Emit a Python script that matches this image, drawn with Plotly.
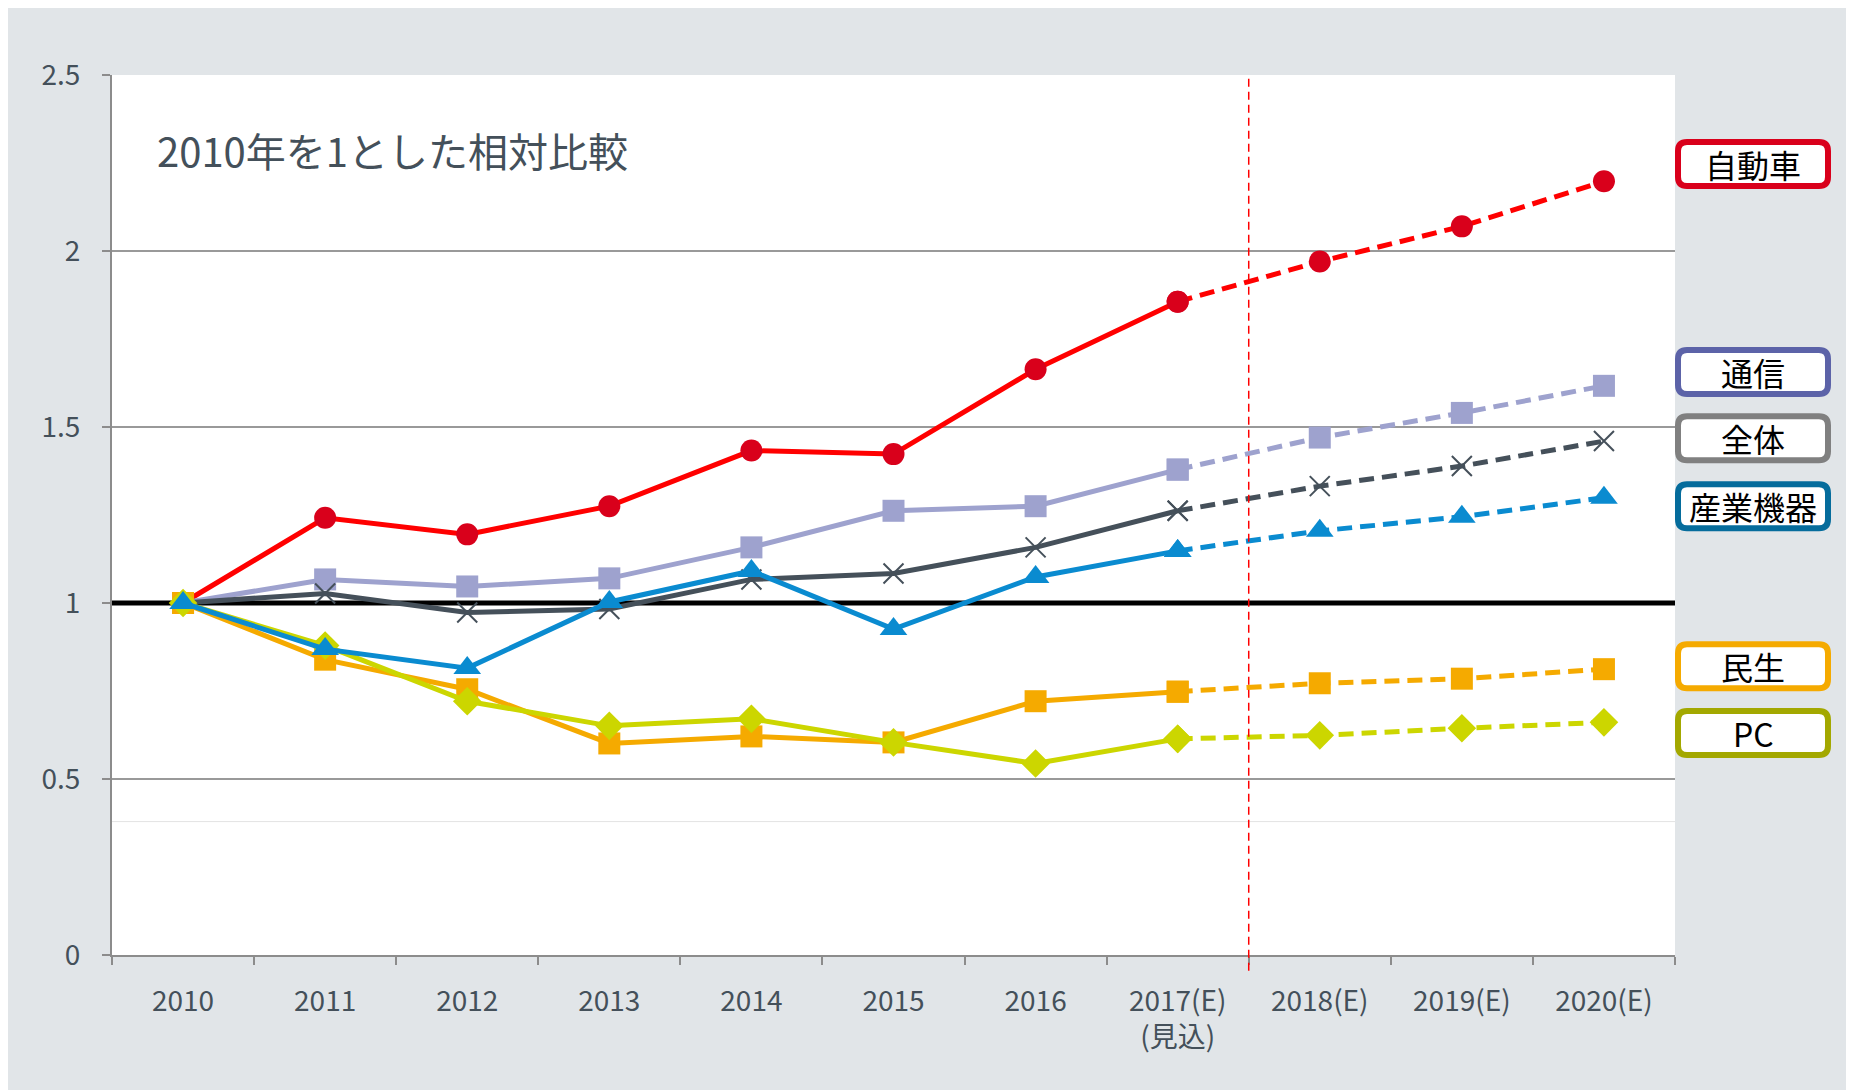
import plotly.graph_objects as go

categories = ["2010", "2011", "2012", "2013", "2014", "2015", "2016",
              "2017(E)<br>(見込)", "2018(E)", "2019(E)", "2020(E)"]

series_names = ["自動車", "通信", "全体", "民生", "PC", "産業機器"]
auto = [1.0, 1.242, 1.195, 1.275, 1.433, 1.423, 1.664, 1.856, 1.970, 2.070, 2.198]
tsushin = [1.0, 1.067, 1.047, 1.070, 1.158, 1.262, 1.275, 1.379, 1.470, 1.540, 1.617]
zentai = [1.0, 1.027, 0.973, 0.983, 1.067, 1.084, 1.158, 1.262, 1.332, 1.389, 1.460]
minsei = [1.0, 0.839, 0.755, 0.601, 0.621, 0.604, 0.721, 0.748, 0.772, 0.785, 0.812]
pc = [1.0, 0.879, 0.721, 0.651, 0.671, 0.604, 0.544, 0.614, 0.624, 0.644, 0.661]
sangyo = [1.0, 0.869, 0.815, 1.003, 1.091, 0.926, 1.074, 1.148, 1.205, 1.245, 1.299]

legend_order = ["自動車", "通信", "全体", "産業機器", "民生", "PC"]
legend_y = [2.247, 1.656, 1.468, 1.275, 0.820, 0.631]

title_text = "2010年を1とした相対比較"
split_index = 7  # last actual (見込) point; forecasts afterwards

FONT = "Noto Sans CJK JP, Noto Sans, sans-serif"

styles = {
    "自動車": dict(line="#FF0000", marker="#D9001B", symbol="circle", size=22, border="#D9001B"),
    "通信": dict(line="#9EA2CE", marker="#9EA2CE", symbol="square", size=22, border="#5C63A8"),
    "全体": dict(line="#45505A", marker="#45505A", symbol="x-thin", size=20, border="#808080"),
    "民生": dict(line="#F5AA00", marker="#F5AA00", symbol="square", size=22, border="#F5AA00"),
    "PC": dict(line="#CCD600", marker="#CCD600", symbol="diamond", size=22, border="#A3A800"),
    "産業機器": dict(line="#0A8BD0", marker="#0A8BD0", symbol="triangle-up", size=24, border="#056C9C"),
}
values = {"自動車": auto, "通信": tsushin, "全体": zentai,
          "民生": minsei, "PC": pc, "産業機器": sangyo}

fig = go.Figure()

for name in series_names:
    st = styles[name]
    vals = values[name]
    if st["symbol"] == "x-thin":
        marker = dict(symbol="x-thin", size=st["size"], color=st["marker"],
                      line=dict(color=st["marker"], width=2))
    else:
        marker = dict(symbol=st["symbol"], size=st["size"], color=st["marker"],
                      line=dict(width=0))
    fig.add_trace(go.Scatter(
        x=categories[:split_index + 1], y=vals[:split_index + 1],
        mode="lines+markers", name=name, showlegend=False,
        line=dict(color=st["line"], width=5), marker=marker, cliponaxis=False))
    fig.add_trace(go.Scatter(
        x=categories[split_index:], y=vals[split_index:],
        mode="lines+markers", name=name, showlegend=False,
        line=dict(color=st["line"], width=5, dash="15px,8px"), marker=marker,
        cliponaxis=False))

# page geometry: the figure sits 8px inside the window (body margin)
OFF = 8
W, H = 1854 - OFF, 1090 - OFF
ml, mt = 112 - OFF, 75 - OFF
pw = 1675 - 112
ph = 955 - 75
mr = W - ml - pw
mb = H - mt - ph


def px_x(px):  # reference window pixel -> paper x
    return (px - OFF - ml) / pw


def px_y(py):  # reference window pixel -> paper y
    return (mt + ph - (py - OFF)) / ph


shapes = [
    # outer grey background
    dict(type="rect", xref="paper", yref="paper", x0=px_x(-20), x1=px_x(1900),
         y0=px_y(1120), y1=px_y(4), fillcolor="#E1E5E8", line=dict(width=0),
         layer="below"),
    # white plot area
    dict(type="rect", xref="paper", yref="paper", x0=0, x1=1, y0=0, y1=1,
         fillcolor="white", line=dict(width=0), layer="below"),
    # faint line
    dict(type="line", xref="x", yref="y", x0=-0.5, x1=len(categories) - 0.5,
         y0=0.379, y1=0.379, line=dict(color="#E3E3E3", width=1), layer="between"),
    # baseline at 1
    dict(type="line", xref="x", yref="y", x0=-0.5, x1=len(categories) - 0.5,
         y0=1, y1=1, line=dict(color="black", width=5), layer="between"),
    # vertical separator between actual and forecast
    dict(type="line", xref="paper", yref="paper",
         x0=(split_index + 1) / len(categories), x1=(split_index + 1) / len(categories),
         y0=-0.018, y1=1, line=dict(color="#FF0000", width=1.5, dash="8px,5px"),
         layer="above"),
]

# rounded legend boxes
box_cx, box_w, box_h, rad = 1753, 150, 44, 9
for name, yv in zip(legend_order, legend_y):
    st = styles[name]
    yc_paper = yv / 2.5
    cy = (mt + ph) - yc_paper * ph + OFF  # window pixel of centre
    x0, x1 = box_cx - box_w / 2, box_cx + box_w / 2
    y0, y1 = cy - box_h / 2, cy + box_h / 2
    X = px_x
    Y = px_y
    path = (f"M {X(x0 + rad)},{Y(y0)} L {X(x1 - rad)},{Y(y0)} "
            f"Q {X(x1)},{Y(y0)} {X(x1)},{Y(y0 + rad)} "
            f"L {X(x1)},{Y(y1 - rad)} Q {X(x1)},{Y(y1)} {X(x1 - rad)},{Y(y1)} "
            f"L {X(x0 + rad)},{Y(y1)} Q {X(x0)},{Y(y1)} {X(x0)},{Y(y1 - rad)} "
            f"L {X(x0)},{Y(y0 + rad)} Q {X(x0)},{Y(y0)} {X(x0 + rad)},{Y(y0)} Z")
    shapes.append(dict(type="path", xref="paper", yref="paper", path=path,
                       fillcolor="white", line=dict(color=st["border"], width=6),
                       layer="above"))

annotations = [
    dict(text=title_text, xref="paper", yref="paper", x=px_x(155), y=px_y(150),
         xanchor="left", yanchor="middle", showarrow=False,
         font=dict(family=FONT, size=40, color="#44505A")),
]
for name, yv in zip(legend_order, legend_y):
    annotations.append(dict(
        text=name, xref="paper", yref="paper", x=px_x(box_cx), y=yv / 2.5,
        xanchor="center", yanchor="middle", showarrow=False,
        font=dict(family=FONT, size=32, color="black")))

fig.update_layout(
    width=W, height=H,
    margin=dict(l=ml, r=mr, t=mt, b=mb, autoexpand=False),
    paper_bgcolor="white", plot_bgcolor="white",
    font=dict(family=FONT, color="#44505A", size=28),
    showlegend=False,
    shapes=shapes, annotations=annotations,
    xaxis=dict(type="category", categoryorder="array", categoryarray=categories,
               range=[-0.5, len(categories) - 0.5],
               showgrid=False, showline=True, linecolor="#8C8C8C", linewidth=2,
               ticks="outside", tickson="boundaries", ticklen=8, tickwidth=2,
               tickcolor="#8C8C8C", ticklabelstandoff=20,
               tickfont=dict(family=FONT, size=28, color="#44505A")),
    yaxis=dict(range=[0, 2.5], dtick=0.5, tick0=0,
               showgrid=True, gridcolor="#999999", gridwidth=1.5,
               showline=True, linecolor="#8C8C8C", linewidth=2,
               ticks="outside", ticklen=8, tickwidth=2, tickcolor="#8C8C8C",
               zeroline=False, ticklabelstandoff=16,
               tickfont=dict(family=FONT, size=28, color="#44505A")),
)

fig.write_html("out.html")
